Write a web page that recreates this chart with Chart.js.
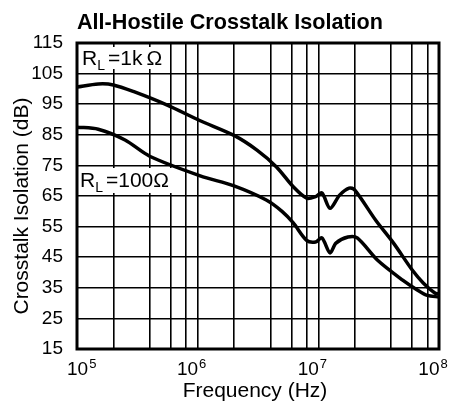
<!DOCTYPE html>
<html>
<head>
<meta charset="utf-8">
<script src="https://cdn.jsdelivr.net/npm/chart.js@4.4.1/dist/chart.umd.min.js"></script>
<style>
  html, body { margin: 0; padding: 0; background: #fff; }
  #wrap { width: 451px; height: 401px; position: relative; }
</style>
</head>
<body>
<div id="wrap"><canvas id="chart"></canvas></div>
<script>
// R_L = 1k curve
const upperFreq = [1e5, 1.5e5, 2e5, 3e5, 5.6e5, 1.05e6, 2e6, 3.1e6, 4.5e6, 6.2e6, 8e6, 9.5e6, 1.07e7, 1.25e7, 1.5e7, 1.8e7, 2e7, 3e7, 4.2e7, 6e7, 7.4e7, 9.3e7, 1e8];
const upperDb   = [100.6, 101.6, 101.3, 99, 94.7, 89.6, 84.8, 80, 74.5, 68, 64.3, 64.8, 66, 61, 65.3, 67.6, 67, 57, 49.6, 40.8, 36.6, 33.2, 33];

// R_L = 100 curve
const lowerFreq = [1e5, 1.5e5, 2.5e5, 4e5, 1.05e6, 2e6, 3.7e6, 5e6, 6.2e6, 8e6, 9.5e6, 1.07e7, 1.25e7, 1.4e7, 1.76e7, 2.1e7, 3.1e7, 5e7, 6.6e7, 8e7, 1e8];
const lowerDb   = [87.5, 86.8, 83.3, 78, 71.6, 68.3, 63.7, 60, 56.2, 50.5, 50, 51.3, 46.4, 49.6, 51.6, 51.3, 44, 37.5, 34.3, 32.5, 32];

const gridFreqs = [1e5, 2e5, 4e5, 6e5, 8e5, 1e6, 2e6, 4e6, 6e6, 8e6, 1e7, 2e7, 4e7, 6e7, 8e7, 1e8];
const decadeExps = [5, 6, 7, 8];
const yTicks = [15, 25, 35, 45, 55, 65, 75, 85, 95, 105, 115];

const FONT = '"Liberation Sans", Arial, Helvetica, sans-serif';

function toPoints(xs, ys) {
    return xs.map((x, i) => ({ x, y: ys[i] }));
}

const labelsPlugin = {
    id: 'labels',
    beforeDatasetsDraw(chart) {
        const ctx = chart.ctx;
        ctx.save();
        ctx.fillStyle = '#fff';
        ctx.fillRect(78, 47, 91, 22);
        ctx.fillRect(78, 168, 95, 25);
        ctx.fillStyle = '#000';
        ctx.textBaseline = 'alphabetic';
        drawRL(ctx, 82, 65, '=1k\u2009\u03A9');
        drawRL(ctx, 80, 187, '=100\u03A9');
        ctx.restore();
    },
    afterDraw(chart) {
        const ctx = chart.ctx;
        const a = chart.chartArea;
        const xs = chart.scales.x;
        ctx.save();
        ctx.strokeStyle = '#000';
        ctx.lineWidth = 3;
        ctx.strokeRect(a.left, a.top, a.right - a.left, a.bottom - a.top);

        ctx.fillStyle = '#000';
        ctx.textBaseline = 'alphabetic';
        ctx.textAlign = 'left';
        ctx.font = 'bold 21.6px ' + FONT;
        ctx.fillText('All-Hostile Crosstalk Isolation', 77, 29);

        // decade tick labels with superscript exponent
        decadeExps.forEach(e => {
            ctx.font = '19px ' + FONT;
            const w1 = ctx.measureText('10').width;
            ctx.font = '13px ' + FONT;
            const w2 = ctx.measureText(String(e)).width;
            const total = w1 + 1 + w2;
            let left = xs.getPixelForValue(Math.pow(10, e)) - 6 - total / 2;
            left = Math.max(67, Math.min(left, 448 - total));
            ctx.font = '19px ' + FONT;
            ctx.fillText('10', left, 375);
            ctx.font = '13px ' + FONT;
            ctx.fillText(String(e), left + w1 + 1, 368);
        });

        ctx.font = '21px ' + FONT;
        ctx.textAlign = 'center';
        ctx.fillText('Frequency (Hz)', 255, 397);

        ctx.translate(28, 206);
        ctx.rotate(-Math.PI / 2);
        ctx.fillText('Crosstalk Isolation (dB)', 0, 0);
        ctx.restore();
    }
};

function drawRL(ctx, x, y, rest) {
    ctx.textAlign = 'left';
    ctx.font = '21px ' + FONT;
    ctx.fillText('R', x, y);
    x += ctx.measureText('R').width;
    ctx.font = '14px ' + FONT;
    ctx.fillText('L', x, y + 5);
    x += ctx.measureText('L').width + 3;
    ctx.font = '21px ' + FONT;
    ctx.fillText(rest, x, y);
}

const lineStyle = {
    borderColor: '#000',
    borderWidth: 3.5,
    pointRadius: 0,
    tension: 0.3,
    fill: false
};

const chart = new Chart(document.getElementById('chart'), {
    type: 'line',
    data: {
        datasets: [
            Object.assign({ label: 'RL=1k', data: toPoints(upperFreq, upperDb) }, lineStyle),
            Object.assign({ label: 'RL=100', data: toPoints(lowerFreq, lowerDb) }, lineStyle)
        ]
    },
    options: {
        responsive: true,
        maintainAspectRatio: false,
        animation: false,
        layout: { padding: { left: 0, top: 43, right: 12, bottom: 52 } },
        plugins: {
            legend: { display: false },
            tooltip: { enabled: false }
        },
        scales: {
            x: {
                type: 'logarithmic',
                min: 1e5,
                max: 1e8,
                afterBuildTicks: axis => { axis.ticks = gridFreqs.map(v => ({ value: v })); },
                afterFit: axis => { axis.height = 0; },
                ticks: { display: false },
                grid: { color: '#000', lineWidth: 1.6, drawTicks: false },
                border: { display: false }
            },
            y: {
                type: 'linear',
                min: 15,
                max: 115,
                afterBuildTicks: axis => { axis.ticks = yTicks.map(v => ({ value: v })); },
                afterFit: axis => { axis.width = 77; },
                ticks: {
                    color: '#000',
                    padding: 14,
                    font: { family: FONT, size: 19 }
                },
                grid: { color: '#000', lineWidth: 1.6, drawTicks: false },
                border: { display: false }
            }
        }
    },
    plugins: [labelsPlugin]
});
</script>
</body>
</html>
